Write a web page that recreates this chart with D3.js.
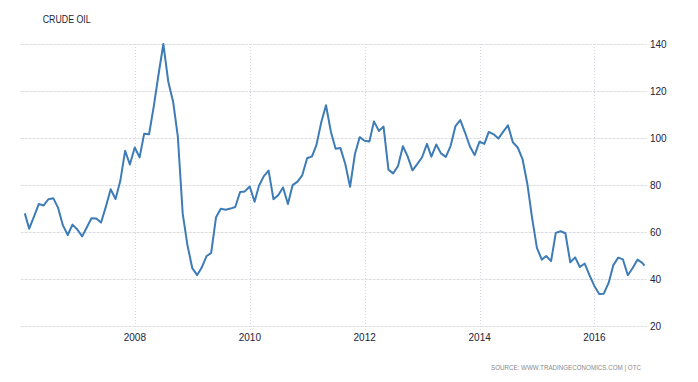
<!DOCTYPE html>
<html>
<head>
<meta charset="utf-8">
<script src="https://cdn.jsdelivr.net/npm/d3@7"></script>
<style>
  html, body { margin: 0; padding: 0; background: #fff; }
  svg { display: block; }
</style>
</head>
<body>
<svg id="chart" width="698" height="382"></svg>
<script>
// ---- data ----
const title = "CRUDE OIL";
const source = "SOURCE: WWW.TRADINGECONOMICS.COM | OTC";
const startMonth = "2006-01";           // first month-end close
const lastDate = "2016-11-14";          // final (partial month) observation
const prices = [
  67.92, 61.41, 66.63, 71.88, 71.29, 73.93, 74.40, 70.26, 62.91, 58.73, 63.13, 61.05,
  58.14, 61.79, 65.87, 65.71, 64.01, 70.68, 78.21, 74.04, 81.66, 94.53, 88.71, 95.98,
  91.75, 101.84, 101.58, 113.46, 127.35, 140.00, 124.08, 115.46, 100.64, 67.81, 54.43, 44.60,
  41.68, 44.76, 49.66, 51.12, 66.31, 69.89, 69.45, 69.96, 70.61, 77.00, 77.28, 79.36,
  72.89, 79.66, 83.76, 86.15, 73.97, 75.63, 78.95, 71.92, 79.97, 81.43, 84.11, 91.38,
  92.19, 96.97, 106.72, 113.93, 102.70, 95.42, 95.70, 88.81, 79.20, 93.19, 100.36, 98.83,
  98.48, 107.07, 103.02, 104.87, 86.53, 84.96, 88.06, 96.47, 92.19, 86.24, 88.91, 91.82,
  97.49, 92.05, 97.23, 93.46, 91.97, 96.56, 105.03, 107.65, 102.33, 96.38, 92.72, 98.42,
  97.49, 102.59, 101.58, 99.74, 102.71, 105.37, 98.17, 95.96, 91.16, 80.54, 66.15, 53.27,
  48.24, 49.76, 47.60, 59.63, 60.30, 59.47, 47.12, 49.20, 45.09, 46.59, 41.65, 37.04,
  33.62, 33.75, 38.34, 45.92, 49.10, 48.33, 41.60, 44.70, 48.24, 46.86, 45.70
];
const yTicks = [20, 40, 60, 80, 100, 120, 140];
const xTickYears = [2008, 2010, 2012, 2014, 2016];

// ---- build dated series (month-end dates, last one partial) ----
const parseDay = d3.timeParse("%Y-%m-%d");
const parseMonth = d3.timeParse("%Y-%m");
const m0 = parseMonth(startMonth);
const series = prices.map((v, i) => {
  const date = (i === prices.length - 1)
    ? parseDay(lastDate)
    : d3.timeDay.offset(d3.timeMonth.offset(m0, i + 1), -1);
  return { date, value: v };
});

// ---- layout ----
const svg = d3.select("#chart");
const plot = { left: 20.7, right: 646.7, top: 44, bottom: 326 };

const x = d3.scaleTime()
  .domain([parseDay("2006-01-05"), parseDay("2016-11-28")])
  .range([plot.left, plot.right]);
const y = d3.scaleLinear()
  .domain([20, 140])
  .range([plot.bottom, plot.top]);

// horizontal gridlines
svg.append("g").selectAll("line")
  .data(yTicks).join("line")
  .attr("x1", plot.left).attr("x2", plot.right)
  .attr("y1", d => Math.round(y(d)) + 0.5).attr("y2", d => Math.round(y(d)) + 0.5)
  .attr("stroke", "#dcdce2").attr("stroke-width", 1)
  .attr("stroke-dasharray", "3,1");

// vertical gridlines at year ticks
const xTickDates = xTickYears.map(yr => new Date(yr, 0, 1));
svg.append("g").selectAll("line")
  .data(xTickDates).join("line")
  .attr("x1", d => Math.round(x(d)) + 0.5).attr("x2", d => Math.round(x(d)) + 0.5)
  .attr("y1", plot.top).attr("y2", plot.bottom + 4)
  .attr("stroke", "#d6d6e4").attr("stroke-width", 1)
  .attr("stroke-dasharray", "1,2");

// y axis labels (right)
svg.append("g").selectAll("text")
  .data(yTicks).join("text")
  .attr("x", 650).attr("y", d => y(d))
  .attr("dy", "0.36em")
  .attr("font-family", "Liberation Sans, Arial, sans-serif")
  .attr("font-size", 10)
  .attr("fill", "#22223a")
  .text(d => d);

// x axis labels
svg.append("g").selectAll("text")
  .data(xTickDates).join("text")
  .attr("x", d => x(d)).attr("y", 337)
  .attr("dy", "0.36em")
  .attr("text-anchor", "middle")
  .attr("font-family", "Liberation Sans, Arial, sans-serif")
  .attr("font-size", 10)
  .attr("fill", "#22223a")
  .text(d => d3.timeFormat("%Y")(d));

// line
const line = d3.line()
  .x(d => x(d.date))
  .y(d => y(d.value));
svg.append("path")
  .datum(series)
  .attr("d", line)
  .attr("fill", "none")
  .attr("stroke", "#3d7cb6")
  .attr("stroke-width", 2)
  .attr("stroke-linejoin", "round");

// title
svg.append("text")
  .attr("x", 42.7).attr("y", 23)
  .attr("font-family", "Liberation Sans, Arial, sans-serif")
  .attr("font-size", 10.5)
  .attr("textLength", 48)
  .attr("lengthAdjust", "spacingAndGlyphs")
  .attr("fill", "#1f1f36")
  .text(title);

// source
svg.append("text")
  .attr("x", 641).attr("y", 369.5)
  .attr("text-anchor", "end")
  .attr("font-family", "Liberation Sans, Arial, sans-serif")
  .attr("font-size", 7)
  .attr("textLength", 150)
  .attr("lengthAdjust", "spacingAndGlyphs")
  .attr("fill", "#8a8a8a")
  .text(source);
</script>
</body>
</html>
